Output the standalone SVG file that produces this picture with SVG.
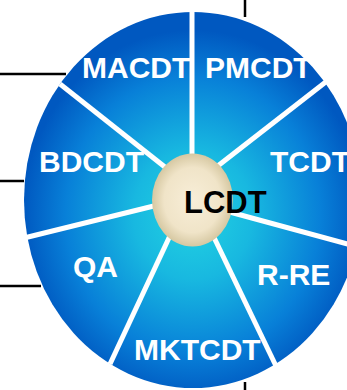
<svg xmlns="http://www.w3.org/2000/svg" width="347" height="390" viewBox="0 0 347 390">
<defs>
<radialGradient id="wheel" cx="193" cy="215" r="185" gradientUnits="userSpaceOnUse" gradientTransform="translate(193 215) scale(0.92 1) translate(-193 -215)">
<stop offset="0" stop-color="#22d4e2"/>
<stop offset="0.35" stop-color="#18b8e0"/>
<stop offset="0.75" stop-color="#0880d8"/>
<stop offset="1" stop-color="#0058c0"/>
</radialGradient>
<radialGradient id="hub" cx="0.5" cy="0.5" r="0.5">
<stop offset="0" stop-color="#f8eed8"/>
<stop offset="0.7" stop-color="#f0e4c8"/>
<stop offset="1" stop-color="#d6c8a2"/>
</radialGradient>
</defs>
<style>
.lbl{font-family:"Liberation Sans",Arial,sans-serif;font-weight:bold;font-size:30px;fill:#ffffff}
.spoke{stroke:#ffffff;stroke-width:5;fill:none}
.lead{stroke:#000000;stroke-width:2.5;fill:none}
</style>
<g id="connectors">
<line class="lead" x1="0" y1="74" x2="66" y2="74"/>
<line class="lead" x1="0" y1="181" x2="24" y2="181"/>
<line class="lead" x1="0" y1="286" x2="41" y2="286"/>
<line class="lead" x1="245" y1="0" x2="245" y2="17"/>
<line class="lead" x1="245" y1="382" x2="245" y2="390"/>
</g>
<g id="wheel-body">
<ellipse cx="193" cy="200" rx="169" ry="188" fill="url(#wheel)"/>
<line class="spoke" x1="192" y1="10" x2="192" y2="170"/>
<line class="spoke" x1="60" y1="84" x2="175" y2="175"/>
<line class="spoke" x1="327" y1="81" x2="210" y2="172"/>
<line class="spoke" x1="24" y1="238" x2="170" y2="202"/>
<line class="spoke" x1="215" y1="208" x2="362" y2="248"/>
<line class="spoke" x1="175" y1="225" x2="110" y2="364"/>
<line class="spoke" x1="208" y1="225" x2="276" y2="366"/>
</g>
<g id="node-MACDT"><text class="lbl" x="82" y="78">MACDT</text></g>
<g id="node-PMCDT"><text class="lbl" x="205" y="78">PMCDT</text></g>
<g id="node-BDCDT"><text class="lbl" x="39" y="172">BDCDT</text></g>
<g id="node-TCDT"><text class="lbl" x="270" y="172">TCDT</text></g>
<g id="node-QA"><text class="lbl" x="73" y="277">QA</text></g>
<g id="node-R-RE"><text class="lbl" x="257" y="285">R-RE</text></g>
<g id="node-MKTCDT"><text class="lbl" x="134" y="360">MKTCDT</text></g>
<g id="node-LCDT">
<ellipse cx="192.5" cy="200" rx="40.5" ry="46.5" fill="url(#hub)"/>
<text x="184" y="213" font-family="Liberation Sans,Arial,sans-serif" font-weight="bold" font-size="31" fill="#000000">LCDT</text>
</g>
</svg>
